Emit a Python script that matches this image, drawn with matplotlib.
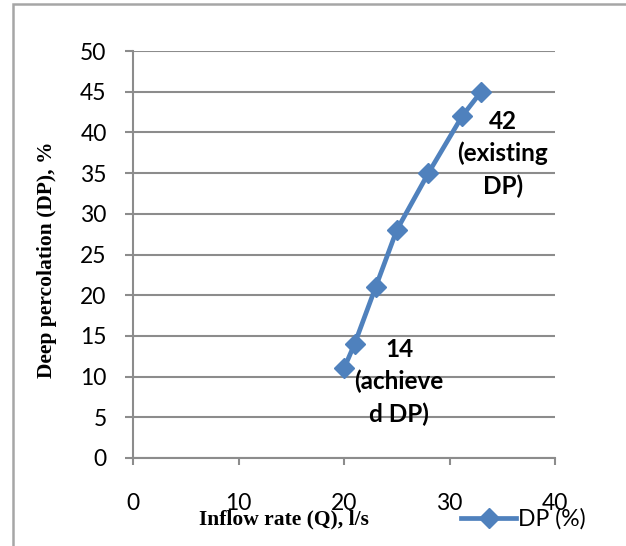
import matplotlib
matplotlib.use("Agg")
import matplotlib.pyplot as plt
from matplotlib.patches import Rectangle

# data
inflow_q = [20, 21, 23, 25, 28, 31.2, 33]
deep_perc = [11, 14, 21, 28, 35, 42, 45]
x_ticks = [0, 10, 20, 30, 40]
y_ticks = [0, 5, 10, 15, 20, 25, 30, 35, 40, 45, 50]

blue = '#4F81BD'
grid_gray = '#8C8C8C'
sans = 'Lato'
serif = 'Liberation Serif'

fig = plt.figure(figsize=(6.26, 5.46), dpi=100)
ax = fig.add_axes([133 / 626, 1 - 458 / 546, 422 / 626, 407 / 546])

# outer frame of the chart area
fig.patches.append(Rectangle((13 / 626, -0.1), 1.0, 1 - 4 / 546 + 0.1,
                             transform=fig.transFigure, fill=False,
                             edgecolor='#A6A6A6', linewidth=1.8))

ax.plot(inflow_q, deep_perc, color=blue, linewidth=3.4, marker='D',
        markersize=10, markerfacecolor=blue, markeredgecolor=blue,
        label='DP (%)', zorder=3)

ax.set_xlim(0, 40)
ax.set_ylim(0, 50)
ax.set_xticks(x_ticks)
ax.set_yticks(y_ticks)
ax.yaxis.grid(True, color=grid_gray, linewidth=1.5)
ax.set_axisbelow(True)

for side in ['top', 'right']:
    ax.spines[side].set_visible(False)
for side in ['left', 'bottom']:
    ax.spines[side].set_color(grid_gray)
    ax.spines[side].set_linewidth(1.5)

ax.tick_params(axis='both', colors=grid_gray, width=1.5,
               labelcolor='black', labelsize=16.5)
ax.tick_params(axis='x', length=5, pad=20)
ax.tick_params(axis='y', length=6, pad=13)
for lbl in ax.get_xticklabels() + ax.get_yticklabels():
    lbl.set_family(sans)

fig.text(47 / 626, 1 - 260 / 546, 'Deep percolation (DP), %', family=serif,
         fontweight='bold', fontsize=15.5, rotation=90,
         ha='center', va='center')
fig.text(284 / 626, 1 - 519 / 546, 'Inflow rate (Q), l/s', family=serif,
         fontweight='bold', fontsize=15.5, ha='center', va='center')

# data labels
fig.text(503 / 626, 1 - 110 / 546, '42\n(existing\nDP)', family=sans,
         fontweight='bold', fontsize=17.5, ha='center', va='top',
         linespacing=1.45)
fig.text(399 / 626, 1 - 338 / 546, '14\n(achieve\nd DP)', family=sans,
         fontweight='bold', fontsize=17.5, ha='center', va='top',
         linespacing=1.45)

leg = fig.legend(loc='center left', bbox_to_anchor=(461 / 626, 1 - 519 / 546),
                 frameon=False, prop={'family': sans, 'size': 16.5},
                 handlelength=2.4, handletextpad=0.1, borderpad=0,
                 borderaxespad=0)

fig.savefig('out.png', dpi=100)
